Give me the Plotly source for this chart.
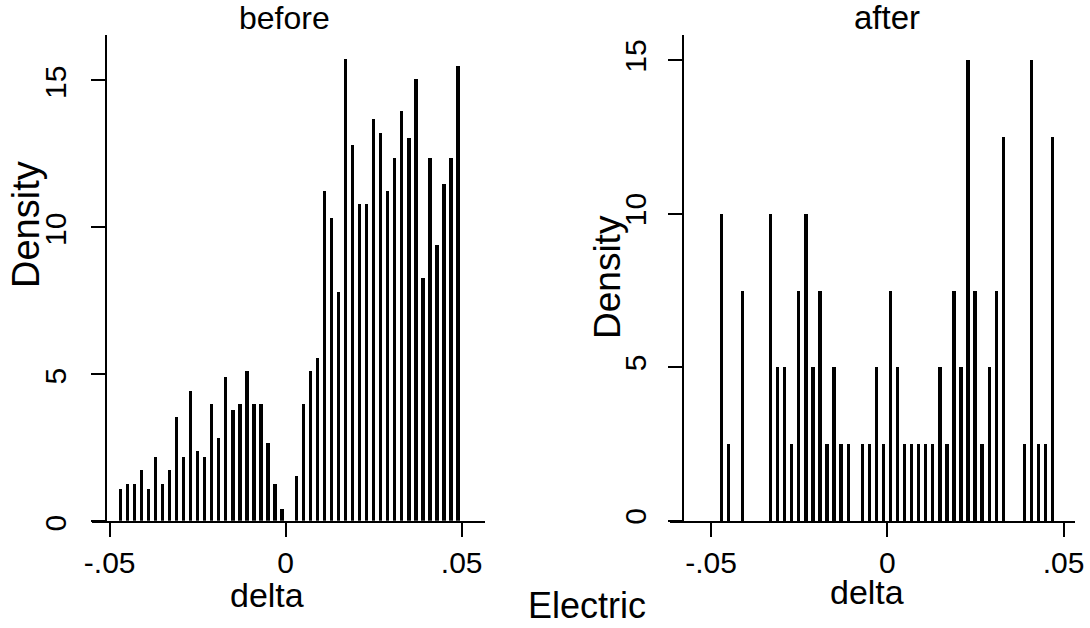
import plotly.graph_objects as go

# Histogram bins (centres, width 0.002) for the "before" panel
before_x = [
    -0.0471, -0.0451, -0.0431, -0.0411, -0.0391, -0.0371, -0.0351, -0.0331,
    -0.0311, -0.0291, -0.0271, -0.0251, -0.0231, -0.0211, -0.0191, -0.0171,
    -0.0151, -0.0131, -0.0111, -0.0091, -0.0071, -0.0051, -0.0031, -0.0011,
    0.0029, 0.0049, 0.0069, 0.0089, 0.0109, 0.0129, 0.0149, 0.0169,
    0.0189, 0.0209, 0.0229, 0.0249, 0.0269, 0.0289, 0.0309, 0.0329,
    0.0349, 0.0369, 0.0389, 0.0409, 0.0429, 0.0449, 0.0469, 0.0489,
]
before_density = [
    1.07, 1.25, 1.25, 1.72, 1.07, 2.17, 1.25, 1.72,
    3.53, 2.17, 4.42, 2.37, 2.17, 3.97, 2.83, 4.89,
    3.77, 3.97, 5.09, 3.97, 3.97, 2.65, 1.25, 0.40,
    1.53, 3.97, 5.10, 5.55, 11.21, 10.31, 7.79, 15.71,
    12.77, 10.76, 10.76, 13.65, 13.20, 11.21, 12.35, 13.92,
    13.00, 15.03, 8.27, 12.35, 9.39, 11.44, 12.35, 15.48,
]

# Histogram bins for the "after" panel
after_x = [
    -0.0471, -0.0451, -0.0411, -0.0331, -0.0311, -0.0291, -0.0271, -0.0251,
    -0.0231, -0.0211, -0.0191, -0.0171, -0.0151, -0.0131, -0.0111, -0.0071,
    -0.0051, -0.0031, -0.0011, 0.0009, 0.0029, 0.0049, 0.0069, 0.0089,
    0.0109, 0.0129, 0.0149, 0.0169, 0.0189, 0.0209, 0.0229, 0.0249,
    0.0269, 0.0289, 0.0309, 0.0329, 0.0389, 0.0409, 0.0429, 0.0449,
    0.0469,
]
after_density = [
    10, 2.5, 7.5, 10, 5, 5, 2.5, 7.5,
    10, 5, 7.5, 2.5, 5, 2.5, 2.5, 2.5,
    2.5, 5, 2.5, 7.5, 5, 2.5, 2.5, 2.5,
    2.5, 2.5, 5, 2.5, 7.5, 5, 15, 7.5,
    2.5, 5, 7.5, 12.5, 2.5, 15, 2.5, 2.5,
    12.5,
]

x_tickvals = [-0.05, 0, 0.05]
x_ticktext = ["-.05", "0", ".05"]
y_tickvals = [0, 5, 10, 15]
y_ticktext = ["0", "5", "10", "15"]

W, H = 1090, 628
FONT = "Liberation Sans, Arial, sans-serif"
BAR_W = 0.00095


def fx(px):
    return px / W


def fy(py):
    return 1 - py / H


fig = go.Figure()
fig.add_trace(go.Bar(x=before_x, y=before_density, width=BAR_W,
                     marker=dict(color="black", line=dict(width=0)),
                     xaxis="x", yaxis="y", hoverinfo="x+y"))
fig.add_trace(go.Bar(x=after_x, y=after_density, width=BAR_W,
                     marker=dict(color="black", line=dict(width=0)),
                     xaxis="x2", yaxis="y2", hoverinfo="x+y"))

axis_common = dict(showline=True, linecolor="black", linewidth=2,
                   ticks="outside", ticklen=14, tickwidth=2, tickcolor="black",
                   showgrid=False, zeroline=False, automargin=False,
                   tickfont=dict(family=FONT, size=30, color="black"))

fig.update_layout(
    width=W, height=H,
    margin=dict(l=0, r=0, t=0, b=0, autoexpand=False),
    paper_bgcolor="white", plot_bgcolor="white",
    showlegend=False, bargap=0,
    font=dict(family=FONT, color="black"),
    xaxis=dict(domain=[fx(91.7), fx(485)], range=[-0.05511, 0.05662],
               anchor="y", tickvals=x_tickvals, ticktext=x_ticktext,
               **axis_common),
    yaxis=dict(domain=[fy(520.7), fy(35)], range=[0, 16.52],
               anchor="free", position=fx(105.7), tickangle=-90,
               tickvals=y_tickvals, ticktext=y_ticktext,
               ticklabelstandoff=13, ticklabelshift=7, **axis_common),
    xaxis2=dict(domain=[fx(670), fx(1075)], range=[-0.06163, 0.05323],
                anchor="y2", tickvals=x_tickvals, ticktext=x_ticktext,
                **axis_common),
    yaxis2=dict(domain=[fy(521), fy(35)], range=[0, 15.83],
                anchor="free", position=fx(683.3), tickangle=-90,
                tickvals=y_tickvals, ticktext=y_ticktext,
                ticklabelstandoff=10, **axis_common),
)


def label(text, px, py, size, angle=0):
    fig.add_annotation(text=text, x=fx(px), y=fy(py), xref="paper", yref="paper",
                       xanchor="center", yanchor="middle", showarrow=False,
                       textangle=angle, font=dict(family=FONT, size=size, color="black"))


label("before", 284, 18, 32)
label("after", 887, 18, 33)
label("delta", 267, 595, 34)
label("delta", 867, 592, 34)
label("Density", 26, 225, 38, -90)
label("Density", 607, 277, 37, -90)
label("Electric", 587, 605, 36)

fig.write_html("out.html")
